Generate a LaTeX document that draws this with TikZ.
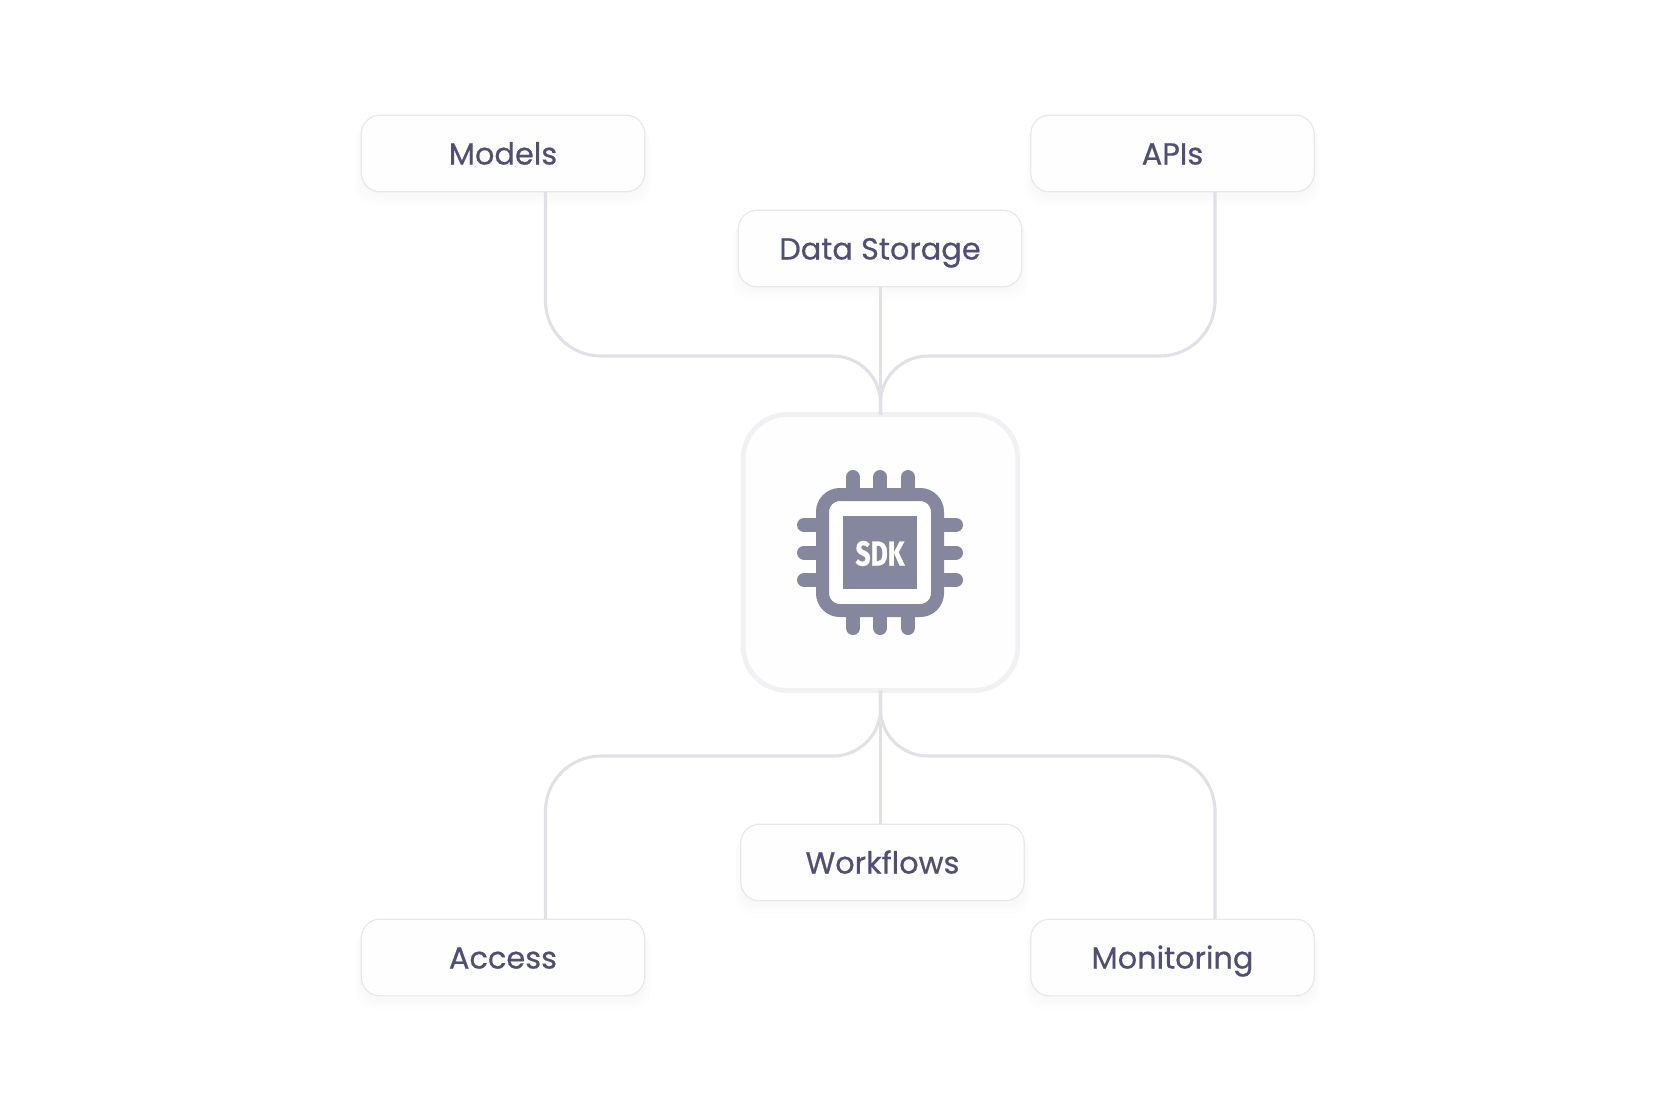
\documentclass[tikz,border=0pt]{standalone}
\usepackage{fontspec}
\usepackage{graphicx}
\setmainfont{Poppins}
\newfontfamily\sdkfont{Fira Sans}[BoldFont=Fira Sans Bold]
\definecolor{labelc}{HTML}{504D7A}
\definecolor{edgec}{HTML}{E8E7ED}
\definecolor{linec}{HTML}{E1E0E6}
\definecolor{chipc}{HTML}{84879D}
\definecolor{hubedge}{HTML}{F1F1F4}
\definecolor{fillc}{HTML}{FEFEFF}
\tikzset{
  x=0.75pt,y=-0.75pt,
  boxnode/.style={draw=edgec,line width=0.9pt,fill=fillc,rounded corners=14pt,
    minimum width=212.5pt,minimum height=57.5pt,outer sep=0pt,inner sep=0pt,text=labelc,
    text height=16.5pt,text depth=0pt,
    font=\fontsize{22.8}{27}\selectfont\addfontfeature{FakeBold=0.6}},
  hubnode/.style={draw=hubedge,line width=3.6pt,fill=fillc,rounded corners=33pt,
    minimum width=206pt,minimum height=207pt,outer sep=0pt,inner sep=0pt},
  shadowlayer/.style={fill=black!50!labelc,rounded corners=14pt,opacity=0.005,draw=none},
  link/.style={draw=linec,line width=2.3pt},
  pin/.style={draw=chipc,line width=10.5pt,line cap=round},
}
\newcommand{\softshadow}[2]{%
  \foreach \s in {1,2,...,6}{
    \fill[shadowlayer] (#1-142-\s,#2-38.5+2*\s) rectangle (#1+142+\s,#2+38.5+2+2*\s);
  }%
}
\begin{document}
\begin{tikzpicture}
\useasboundingbox (0,0) rectangle (1675,1108);
\fill[white] (0,0) rectangle (1675,1108);
% junction columns
\coordinate (xl) at (545.5,0);
\coordinate (xr) at (1215,0);
% soft shadows
\softshadow{503}{153.5}
\softshadow{1172.5}{153.5}
\softshadow{880}{248.5}
\softshadow{882.5}{862.5}
\softshadow{503}{957.5}
\softshadow{1172.5}{957.5}
% nodes
\node[boxnode] (models) at (503,153.5) {Models};
\node[boxnode] (apis) at (1172.5,153.5) {APIs};
\node[boxnode] (storage) at (880,248.5) {Data Storage};
\node[boxnode] (workflows) at (882.5,862.5) {Workflows};
\node[boxnode] (access) at (503,957.5) {Access};
\node[boxnode] (monitoring) at (1172.5,957.5) {Monitoring};
\node[hubnode] (hub) at (880.5,552.5) {};
% connectors
\draw[link] (storage.south -| hub.north) -- (hub.north);
\draw[link] (models.south -| xl) -- (545.5,301) .. controls (545.5,331) and (570,356) .. (601,356)
  -- (833,356) .. controls (859,356) and (880.5,377) .. (880.5,403) -- (hub.north);
\draw[link] (apis.south -| xr) -- (1215,301) .. controls (1215,331) and (1191,356) .. (1160,356)
  -- (928,356) .. controls (902,356) and (880.5,377) .. (880.5,403) -- (hub.north);
\draw[link] (hub.south) -- (workflows.north -| hub.south);
\draw[link] (access.north -| xl) -- (545.5,811) .. controls (545.5,781) and (570,756) .. (601,756)
  -- (833,756) .. controls (859,756) and (880.5,735) .. (880.5,709) -- (hub.south);
\draw[link] (monitoring.north -| xr) -- (1215,811) .. controls (1215,781) and (1191,756) .. (1160,756)
  -- (928,756) .. controls (902,756) and (880.5,735) .. (880.5,709) -- (hub.south);
% chip icon
\foreach \p in {853,880.2,908}{
  \draw[pin] (\p,477) -- (\p,490);
  \draw[pin] (\p,628) -- (\p,615);
}
\foreach \p in {525,552.5,580}{
  \draw[pin] (804,\p) -- (818,\p);
  \draw[pin] (956,\p) -- (942,\p);
}
\draw[draw=chipc,fill=white,line width=9.75pt,rounded corners=13pt] (822.5,494.5) rectangle (937.5,610.5);
\fill[chipc] (843,516) rectangle (917,589);
\node[text=white,inner sep=0pt,font=\fontsize{26}{26}\selectfont\sdkfont\bfseries\addfontfeature{FakeBold=0.8}] (sdklabel) at (880,553.5) {\scalebox{0.76}[1]{SDK}};
\end{tikzpicture}
\end{document}
